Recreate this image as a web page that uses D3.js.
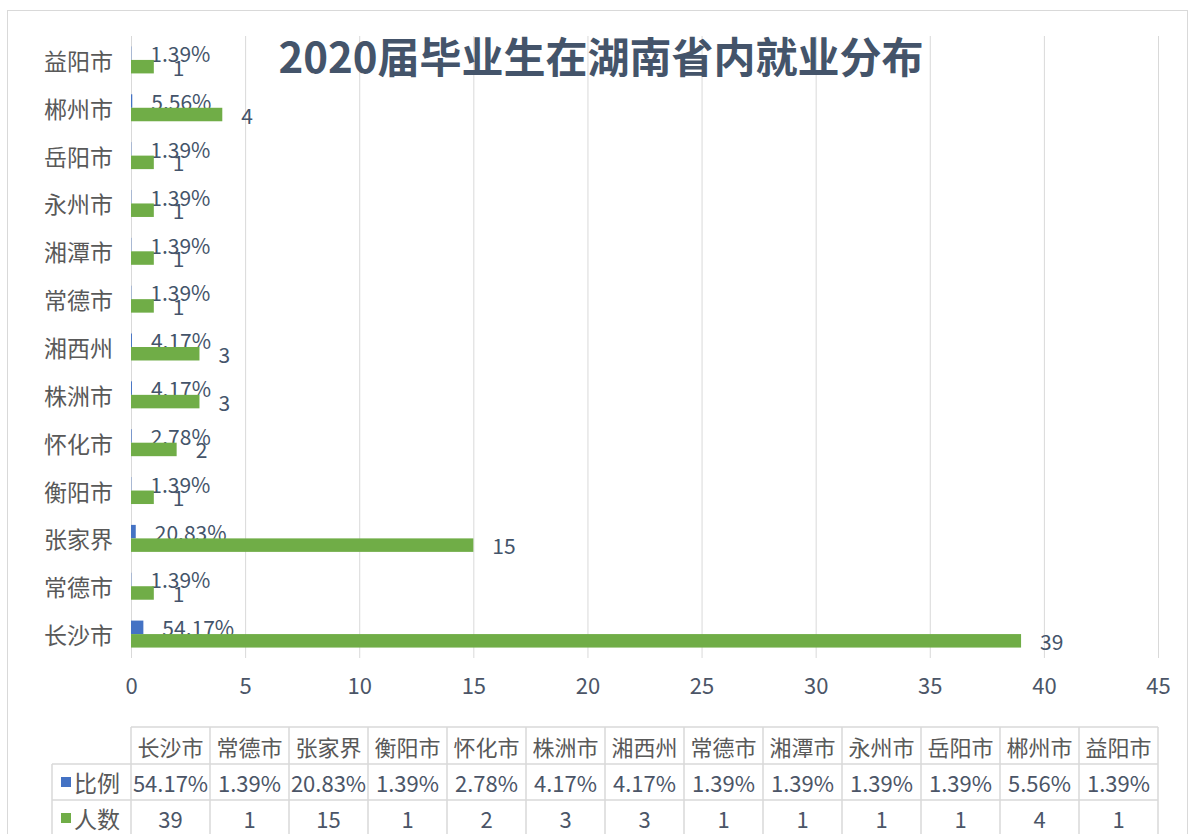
<!DOCTYPE html>
<html>
<head>
<meta charset="utf-8">
<script src="https://cdn.jsdelivr.net/npm/d3@7"></script>
<style>
    body { margin: 0; background: #fff; }
    text { font-family: "Noto Sans CJK SC", "Noto Sans", sans-serif; }
</style>
</head>
<body>
<svg id="chart" width="1193" height="834"></svg>
<script>

// data (bottom to top on the chart)
const cities = ['长沙市', '常德市', '张家界', '衡阳市', '怀化市', '株洲市', '湘西州',
                '常德市', '湘潭市', '永州市', '岳阳市', '郴州市', '益阳市'];
const ratios = [0.5417, 0.0139, 0.2083, 0.0139, 0.0278, 0.0417, 0.0417,
                0.0139, 0.0139, 0.0139, 0.0139, 0.0556, 0.0139];
const counts = [39, 1, 15, 1, 2, 3, 3, 1, 1, 1, 1, 4, 1];
const seriesNames = ['比例', '人数'];
const seriesColors = ['#4472C4', '#70AD47'];
const xTicks = [0, 5, 10, 15, 20, 25, 30, 35, 40, 45];
const title = '2020届毕业生在湖南省内就业分布';

const plot = {'left': 131, 'right': 1158, 'top': 36, 'bottom': 658};
const table = {'left': 52, 'rows': [727, 764, 800, 836]};
const gridColor = '#D9D9D9';
const labelOffset = 19;

const svg = d3.select('#chart');

// chart frame
svg.append('rect')
    .attr('x', 7.5).attr('y', 10.5)
    .attr('width', 1180).attr('height', 840)
    .style('fill', 'none')
    .style('stroke', gridColor);

const x = d3.scaleLinear()
    .domain([xTicks[0], xTicks[xTicks.length - 1]])
    .range([plot.left, plot.right]);

const y = d3.scaleBand()
    .domain(d3.range(cities.length))
    .range([plot.bottom, plot.top])
    .paddingInner(0.436)
    .paddingOuter(0.218);

const ySub = d3.scaleBand()
    .domain(seriesNames)
    .range([0, y.bandwidth()]);

// gridlines + tick labels
const xAxis = svg.append('g')
    .attr('transform', 'translate(0,' + plot.bottom + ')')
    .call(d3.axisBottom(x)
        .tickValues(xTicks)
        .tickSize(-(plot.bottom - plot.top))
        .tickPadding(20)
        .tickFormat(d3.format('d')));

xAxis.select('.domain').remove();
xAxis.selectAll('line').style('stroke', gridColor);
xAxis.selectAll('text')
    .style('font-size', '22px')
    .style('fill', '#4B5567');

// category labels
svg.append('g').selectAll('text')
    .data(cities)
    .enter().append('text')
    .attr('x', 113)
    .attr('y', function(d, i) {return y(i) + y.bandwidth() / 2; })
    .attr('dominant-baseline', 'central')
    .attr('text-anchor', 'end')
    .style('font-size', '23px')
    .style('fill', '#595959')
    .text(function(d) {return d; });

// bars
const series = [ratios, counts];
const fmt = [function(v) {return (v * 100).toFixed(2) + '%'; },
             function(v) {return v; }];

series.forEach(function(vals, s) {
    const g = svg.append('g').attr('id', 'series' + s);

    g.selectAll('rect')
        .data(vals)
        .enter().append('rect')
        .attr('x', x(0))
        .attr('y', function(d, i) {return y(i) + ySub(seriesNames[s]); })
        .attr('width', function(d) {return x(d) - x(0); })
        .attr('height', ySub.bandwidth())
        .style('fill', seriesColors[s]);

    g.selectAll('text')
        .data(vals)
        .enter().append('text')
        .attr('x', function(d) {return x(d) + labelOffset; })
        .attr('y', function(d, i) {return y(i) + ySub(seriesNames[s]) + ySub.bandwidth() / 2; })
        .attr('dominant-baseline', 'central')
        .style('font-size', '21px')
        .style('fill', '#44546A')
        .text(fmt[s]);
});

// title
svg.append('text')
    .attr('x', 601)
    .attr('y', 73)
    .attr('text-anchor', 'middle')
    .style('font-size', '42px')
    .style('font-weight', 'bold')
    .style('fill', '#44546A')
    .text(title);

// data table under the chart
const colW = (plot.right - plot.left) / cities.length;
const tg = svg.append('g').attr('id', 'dataTable');
const rows = table.rows;

tg.append('line')
    .attr('x1', plot.left).attr('x2', plot.right)
    .attr('y1', rows[0]).attr('y2', rows[0]);
tg.selectAll('.hline')
    .data(rows.slice(1))
    .enter().append('line')
    .attr('class', 'hline')
    .attr('x1', table.left).attr('x2', plot.right)
    .attr('y1', function(d) {return d; })
    .attr('y2', function(d) {return d; });
tg.append('line')
    .attr('x1', table.left).attr('x2', table.left)
    .attr('y1', rows[1]).attr('y2', rows[3]);
tg.selectAll('.vline')
    .data(d3.range(cities.length + 1))
    .enter().append('line')
    .attr('class', 'vline')
    .attr('x1', function(d) {return plot.left + d * colW; })
    .attr('x2', function(d) {return plot.left + d * colW; })
    .attr('y1', rows[0]).attr('y2', rows[3]);
tg.selectAll('line')
    .style('stroke', gridColor)
    .style('stroke-width', 1.5);

const tableRows = [cities, ratios.map(fmt[0]), counts];
tableRows.forEach(function(cells, r) {
    tg.append('g').selectAll('text')
        .data(cells)
        .enter().append('text')
        .attr('x', function(d, i) {return plot.left + (i + 0.5) * colW; })
        .attr('y', (rows[r] + rows[r + 1]) / 2)
        .attr('text-anchor', 'middle')
        .attr('dominant-baseline', 'central')
        .style('font-size', '22px')
        .style('fill', r == 0 ? '#595959' : '#4B5567')
        .text(function(d) {return d; });
});

// legend keys in the table
seriesNames.forEach(function(name, s) {
    const cy = (rows[s + 1] + rows[s + 2]) / 2;
    tg.append('rect')
        .attr('x', 61).attr('y', cy - 5)
        .attr('width', 10).attr('height', 10)
        .style('fill', seriesColors[s]);
    tg.append('text')
        .attr('x', 74)
        .attr('y', cy)
        .attr('dominant-baseline', 'central')
        .style('font-size', '23px')
        .style('fill', '#595959')
        .text(name);
});

</script>
</body>
</html>
